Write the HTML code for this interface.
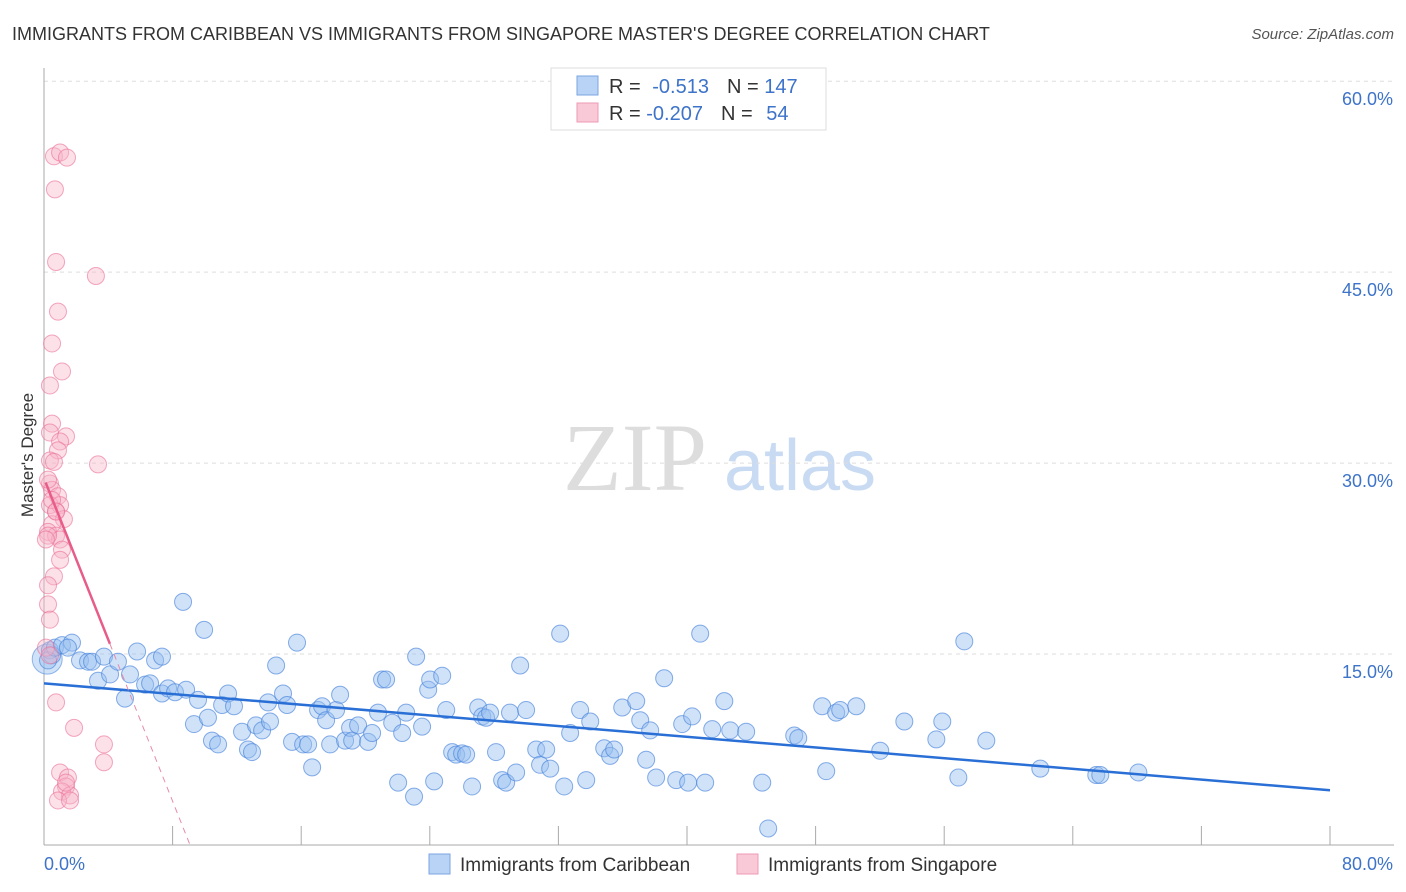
<!DOCTYPE html>
<html><head><meta charset="utf-8"><style>
body{margin:0;background:#fff;font-family:"Liberation Sans",sans-serif}
svg{display:block}
</style></head><body>
<svg width="1406" height="892" xmlns="http://www.w3.org/2000/svg">
<text x="12" y="40" font-size="18" fill="#333">IMMIGRANTS FROM CARIBBEAN VS IMMIGRANTS FROM SINGAPORE MASTER'S DEGREE CORRELATION CHART</text>
<text x="1394" y="39" font-size="15" fill="#555" font-style="italic" text-anchor="end">Source: ZipAtlas.com</text>
<g>
<text x="635" y="490" font-size="96" fill="#ddd" font-family="Liberation Serif,serif" text-anchor="middle">ZIP</text>
<text x="800" y="490" font-size="72" fill="#c8dbf3" text-anchor="middle">atlas</text>
</g>
<g id="grid"></g>
<g id="axes"></g>
<g id="marks"></g>
<text transform="translate(33,455) rotate(-90)" font-size="17" fill="#333" text-anchor="middle">Master's Degree</text>
<g>
<rect x="551" y="68" width="275" height="62" fill="#fff" stroke="#ddd"/>
<rect x="577" y="76" width="21" height="19" fill="#b8d3f5" stroke="#7aa6e0"/>
<rect x="577" y="103" width="21" height="19" fill="#fac9d8" stroke="#ee9ab5"/>
<text x="609" y="93" font-size="20" fill="#333">R = <tspan fill="#3d73c9" dx="6">-0.513</tspan><tspan fill="#333" dx="18">N = </tspan><tspan fill="#3d73c9">147</tspan></text>
<text x="609" y="120" font-size="20" fill="#333">R = <tspan fill="#3d73c9">-0.207</tspan><tspan fill="#333" dx="18">N = </tspan><tspan fill="#3d73c9" dx="8">54</tspan></text>
</g>
<g>
<rect x="429" y="854" width="21" height="20" fill="#b8d3f5" stroke="#7aa6e0"/>
<text x="460" y="871" font-size="19" fill="#333">Immigrants from Caribbean</text>
<rect x="737" y="854" width="21" height="20" fill="#fac9d8" stroke="#ee9ab5"/>
<text x="768" y="871" font-size="19" fill="#333">Immigrants from Singapore</text>
</g>
</svg>
<script>
const xTicks=[0,8,16,24,32,40,48,56,64,72,80];
const yTicks=[15,30,45,60];
const yTickLabels=["15.0%","30.0%","45.0%","60.0%"];
const xTickLabels=["0.0%","80.0%"];
const blueX=[0.37,0.5,0.25,0.68,1.12,1.74,1.49,2.24,2.74,2.99,3.36,3.73,4.11,4.6,5.04,5.35,5.79,6.29,6.6,6.91,7.34,7.34,7.72,8.15,8.65,8.84,9.33,9.58,9.96,10.2,10.45,10.83,11.08,11.45,11.82,12.32,12.69,12.94,13.19,13.57,14.06,13.94,14.44,14.87,15.12,15.43,15.74,16.12,16.43,16.68,17.05,17.3,17.55,17.8,18.17,18.42,18.73,19.04,19.17,19.54,20.16,20.41,20.78,21.03,21.28,21.66,22.03,22.28,22.53,23.02,23.15,23.52,23.9,24.02,24.27,24.77,25.02,25.39,25.64,26.01,26.26,26.63,27.01,27.26,27.5,27.75,28.12,28.5,28.75,28.99,29.37,29.62,29.99,30.62,30.86,31.24,31.49,32.11,32.36,32.73,33.35,33.73,33.98,34.85,35.22,35.47,35.97,36.84,37.09,37.46,37.71,38.08,38.58,39.33,39.7,40.07,40.32,40.82,41.13,41.57,42.32,42.69,43.68,44.68,45.05,46.67,46.92,48.41,48.66,49.28,49.53,50.53,52.02,53.52,55.51,55.88,56.88,57.25,58.62,61.98,65.46,65.71,68.08];
const blueY=[15.3,14.9,14.5,15.5,15.7,15.9,15.5,14.5,14.4,14.4,12.9,14.8,13.4,14.4,11.5,13.4,15.2,12.6,12.7,14.5,14.8,11.9,12.3,12.0,19.1,12.2,9.5,11.4,16.9,10.0,8.2,7.9,11.0,11.9,10.9,8.9,7.5,7.3,9.4,9.0,9.7,11.2,14.1,11.9,11.0,8.1,15.9,7.9,7.9,6.1,10.6,10.9,9.8,7.9,10.6,11.8,8.2,9.2,8.2,9.4,8.1,8.8,10.4,13.0,13.0,9.6,4.9,8.8,10.4,3.8,14.8,9.3,12.2,13.0,5.0,13.3,10.6,7.3,7.1,7.2,7.1,4.6,10.8,10.1,10.0,10.4,7.3,5.1,4.9,10.4,5.7,14.1,10.6,7.5,6.3,7.5,6.0,16.6,4.6,8.8,10.6,5.1,9.7,7.6,7.0,7.5,10.8,11.3,9.8,6.7,9.0,5.3,13.1,5.1,9.5,4.9,10.1,16.6,4.9,9.1,11.3,9.0,8.9,4.9,1.3,8.6,8.4,10.9,5.8,10.4,10.6,10.9,7.4,9.7,8.3,9.7,5.3,16.0,8.2,6.0,5.5,5.5,5.7];
const pinkX=[0.12,0.37,0.62,1.0,1.43,0.68,0.75,3.23,0.87,0.5,1.12,0.37,0.5,0.37,1.37,1.0,0.87,0.37,0.62,3.36,0.37,0.5,0.87,0.37,1.0,0.75,1.24,0.5,0.25,0.75,1.0,1.12,1.0,0.62,0.25,0.25,0.75,1.87,3.73,3.73,1.0,1.49,1.37,1.12,1.62,0.87,1.62,0.25,0.12,0.5,0.25,1.37,0.75,0.37];
const pinkY=[15.5,14.9,54.1,54.4,54.0,51.5,45.8,44.7,41.9,39.4,37.2,36.1,33.1,32.4,32.1,31.7,31.0,30.2,30.1,29.9,28.4,27.9,27.4,26.7,26.7,26.2,25.6,25.2,24.6,24.3,24.0,23.2,22.4,21.1,20.4,18.9,11.2,9.2,7.9,6.5,5.7,5.3,4.6,4.2,3.9,3.5,3.5,24.3,24.0,27.1,28.7,4.9,26.2,17.7];
const blueTrend=[12.7,4.3];
const pinkTrend=[28.8,-3.17];
const pinkSolidEnd=4.1;

const NS="http://www.w3.org/2000/svg";
const X0=44,X1=1330,Y0=845,YPER=12.73;
const sx=v=>X0+(X1-X0)*v/80;
const sy=v=>Y0-v*YPER;
function mk(tag,attrs,parent){const e=document.createElementNS(NS,tag);for(const k in attrs)e.setAttribute(k,attrs[k]);parent.appendChild(e);return e;}
const grid=document.getElementById('grid'),axes=document.getElementById('axes'),marks=document.getElementById('marks');
yTicks.forEach((t,i)=>{
 const l=mk('line',{x1:X0,x2:1394,y1:sy(t),y2:sy(t),stroke:'#ddd','stroke-dasharray':'4,4'},grid);
 
 
 const tx=mk('text',{x:1393,y:sy(t)+24,'font-size':18,fill:'#3d73c9','text-anchor':'end'},axes);
 tx.textContent=yTickLabels[i];
 
 
});
const ax=mk('line',{x1:X0,x2:X0,y1:68,y2:Y0,stroke:'#aaa'},axes);


const bx=mk('line',{x1:X0,x2:1394,y1:Y0,y2:Y0,stroke:'#aaa'},axes);


xTicks.forEach(t=>{
 const l=mk('line',{x1:sx(t),x2:sx(t),y1:Y0-19,y2:Y0,stroke:'#aaa'},axes);
 
 
});
const xl0=mk('text',{x:44,y:870,'font-size':18,fill:'#3d73c9'},axes);xl0.textContent=xTickLabels[0];


const xl1=mk('text',{x:1393,y:870,'font-size':18,fill:'#3d73c9','text-anchor':'end'},axes);xl1.textContent=xTickLabels[1];



const big=mk('circle',{cx:sx(0.2),cy:sy(14.6),r:15,fill:'rgba(150,190,240,0.45)',stroke:'rgba(80,140,220,0.6)'},marks);


blueX.forEach((x,i)=>{
 const c=mk('circle',{cx:sx(x),cy:sy(blueY[i]),r:8.5,fill:'rgba(150,190,240,0.45)',stroke:'rgba(70,130,220,0.65)','stroke-width':1},marks);
 
 
});
pinkX.forEach((x,i)=>{
 const c=mk('circle',{cx:sx(x),cy:sy(pinkY[i]),r:8.5,fill:'rgba(248,180,200,0.4)',stroke:'rgba(235,110,150,0.6)','stroke-width':1},marks);
 
 
});
const bt=mk('line',{x1:sx(0),y1:sy(blueTrend[0]),x2:sx(80),y2:sy(blueTrend[1]),stroke:'#2a6fd6','stroke-width':2.5},marks);


const pz=-pinkTrend[0]/pinkTrend[1];
const ps=mk('line',{x1:sx(0.1),y1:sy(pinkTrend[0]+pinkTrend[1]*0.1),x2:sx(pinkSolidEnd),y2:sy(pinkTrend[0]+pinkTrend[1]*pinkSolidEnd),stroke:'#e85c8a','stroke-width':2.5},marks);


const pd=mk('line',{x1:sx(pinkSolidEnd),y1:sy(pinkTrend[0]+pinkTrend[1]*pinkSolidEnd),x2:sx(pz),y2:sy(0),stroke:'#e88aaa','stroke-width':1,'stroke-dasharray':'6,5'},marks);


</script>
</body></html>
